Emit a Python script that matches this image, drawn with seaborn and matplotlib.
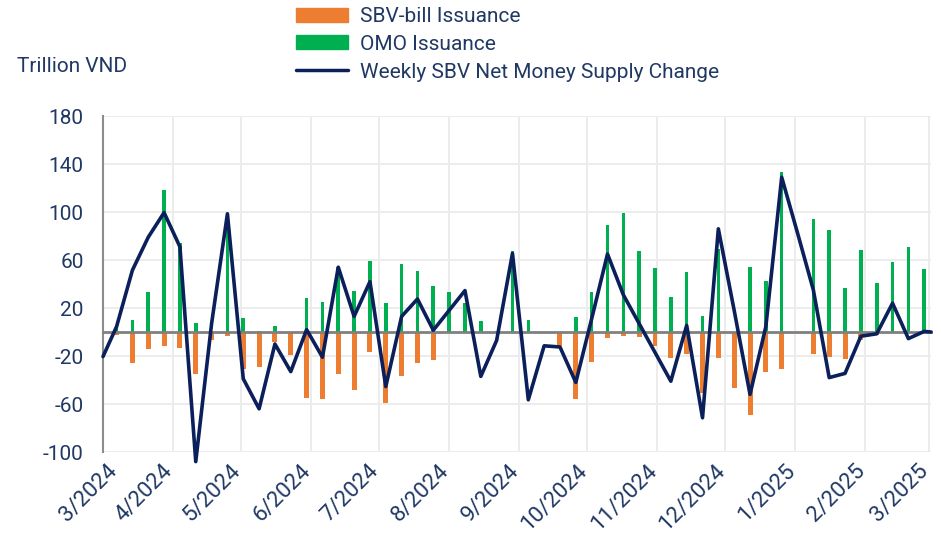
import numpy as np
import pandas as pd
import seaborn as sns
import matplotlib.pyplot as plt
import matplotlib.dates as mdates
import matplotlib.transforms as mtransforms
from matplotlib.patches import Patch
from matplotlib.lines import Line2D


# weekly issuance, trillion VND
week_dates = pd.date_range("2024-03-07", periods=52, freq="7D")

omo_issuance = [4, 10, 33, 118, 74, 7.5, 0, 98, 12, 1, 5, 0, 28,
                25, 54, 34.5, 59, 24, 57, 51, 38.5, 33.5, 24, 9.5, 1, 67.5, 10,
                0, 0, 12.5, 33, 89.5, 99.5, 67.5, 53, 29.5, 50, 13.5, 69.5, 0,
                54.5, 42.5, 133, 0, 94.5, 85, 36.5, 68, 40.5, 58, 70.5, 52.5]

sbv_bill = [-2.5, -26, -14, -12, -13, -35, -7, -3.5, -31, -29, -8, -19, -55,
            -56, -35, -48.5, -17, -59, -37, -26, -23, 0, 0, 0, 0, 0, 0,
            0, -11.5, -55.5, -25, -5, -3.5, -4.5, -11.5, -21.5, -18, -51, -21.5, -47,
            -69, -33.5, -30.5, 0, -18, -20.5, -22.5, -7, -2.5, 0, 0, 0]

# net money supply change: one point before the first week and one after the last
line_dates = [pd.Timestamp("2024-03-01")] + list(week_dates) + [pd.Timestamp("2025-03-02")]
net_change = [-20.5,
              4.5, 51.5, 79, 99.5, 71, -108, 7, 98.5, -39, -64, -10, -33, 2,
              -21, 54, 13, 42, -45.5, 13, 27.5, 1.5, 18, 34.5, -37, -7, 65.5, -56.5,
              -11.5, -12.5, -42, 11, 65, 31, 7, -17, -41, 5.5, -71.5, 86, 18,
              -52, 4.5, 129, 82.5, 35, -38, -34.5, -3.5, -1.5, 24, -5.5, 0.5,
              0]

orange = "#ED7D31"
green = "#00B050"
navy = "#0B1F5B"
text_col = "#1F3864"

sns.set_theme(style="white")
plt.rcParams["font.family"] = ["Roboto", "DejaVu Sans"]
plt.rcParams["axes.unicode_minus"] = False

fig, ax = plt.subplots(figsize=(9.41, 5.34), dpi=100)
fig.subplots_adjust(left=103 / 941, right=931 / 941, top=1 - 116 / 534, bottom=1 - 452 / 534)

ax.bar(week_dates, sbv_bill, width=2.2, color=orange, lw=0, zorder=2)
ax.bar(week_dates, omo_issuance, width=1.6, color=green, lw=0, zorder=2)
sns.lineplot(x=line_dates, y=net_change, ax=ax, color=navy, lw=2.6, zorder=4)
for ln in ax.lines:
    ln.set_clip_on(False)

ax.set_ylim(-100, 180)
ax.set_yticks(np.arange(-100, 181, 40))
ax.set_xlim(pd.Timestamp("2024-03-01"), pd.Timestamp("2025-03-02"))
ax.xaxis.set_major_locator(mdates.MonthLocator())
ax.grid(True, color="#EBEBEB", lw=1.3, zorder=0)
ax.set_axisbelow(True)

for s in ["top", "right"]:
    ax.spines[s].set_visible(False)
ax.spines["left"].set_color("#8C8C8C")
ax.spines["left"].set_linewidth(1.5)
ax.spines["bottom"].set_position(("data", 0))
ax.spines["bottom"].set_color("#808080")
ax.spines["bottom"].set_linewidth(2)
ax.spines["bottom"].set_zorder(3)
ax.tick_params(axis="x", direction="out", length=5, width=1.3, color="#808080", labelbottom=False)
ax.tick_params(axis="y", length=0, pad=14, labelsize=15, labelcolor=text_col)
ax.set_xlabel("")
ax.set_ylabel("")

sec = ax.secondary_xaxis("bottom")
sec.xaxis.set_major_locator(mdates.MonthLocator())
sec.xaxis.set_major_formatter(mdates.DateFormatter("%-m/%Y"))
sec.spines["bottom"].set_visible(False)
sec.tick_params(length=0, pad=6, labelsize=16, labelcolor=text_col)
shift = mtransforms.ScaledTranslation(4 / 100, 0, fig.dpi_scale_trans)
for lab in sec.get_xticklabels():
    lab.set_rotation(45)
    lab.set_ha("right")
    lab.set_va("top")
    lab.set_rotation_mode("anchor")
    lab.set_transform(lab.get_transform() + shift)

fig.text(17 / 941, 1 - 67 / 534, "Trillion VND", fontsize=15, color=text_col, va="center")

handles = [Patch(color=orange), Patch(color=green), Line2D([], [], color=navy, lw=2.5)]
labels = ["SBV-bill Issuance", "OMO Issuance", "Weekly SBV Net Money Supply Change"]
leg = fig.legend(handles, labels, loc="upper left", bbox_to_anchor=(296 / 941, 1 - 7 / 534),
                 frameon=False, fontsize=15, handlelength=2.5, handleheight=0.65,
                 handletextpad=0.55, labelspacing=0.42, borderpad=0, borderaxespad=0)
for t in leg.get_texts():
    t.set_color(text_col)

fig.savefig("out.png", dpi=100)
